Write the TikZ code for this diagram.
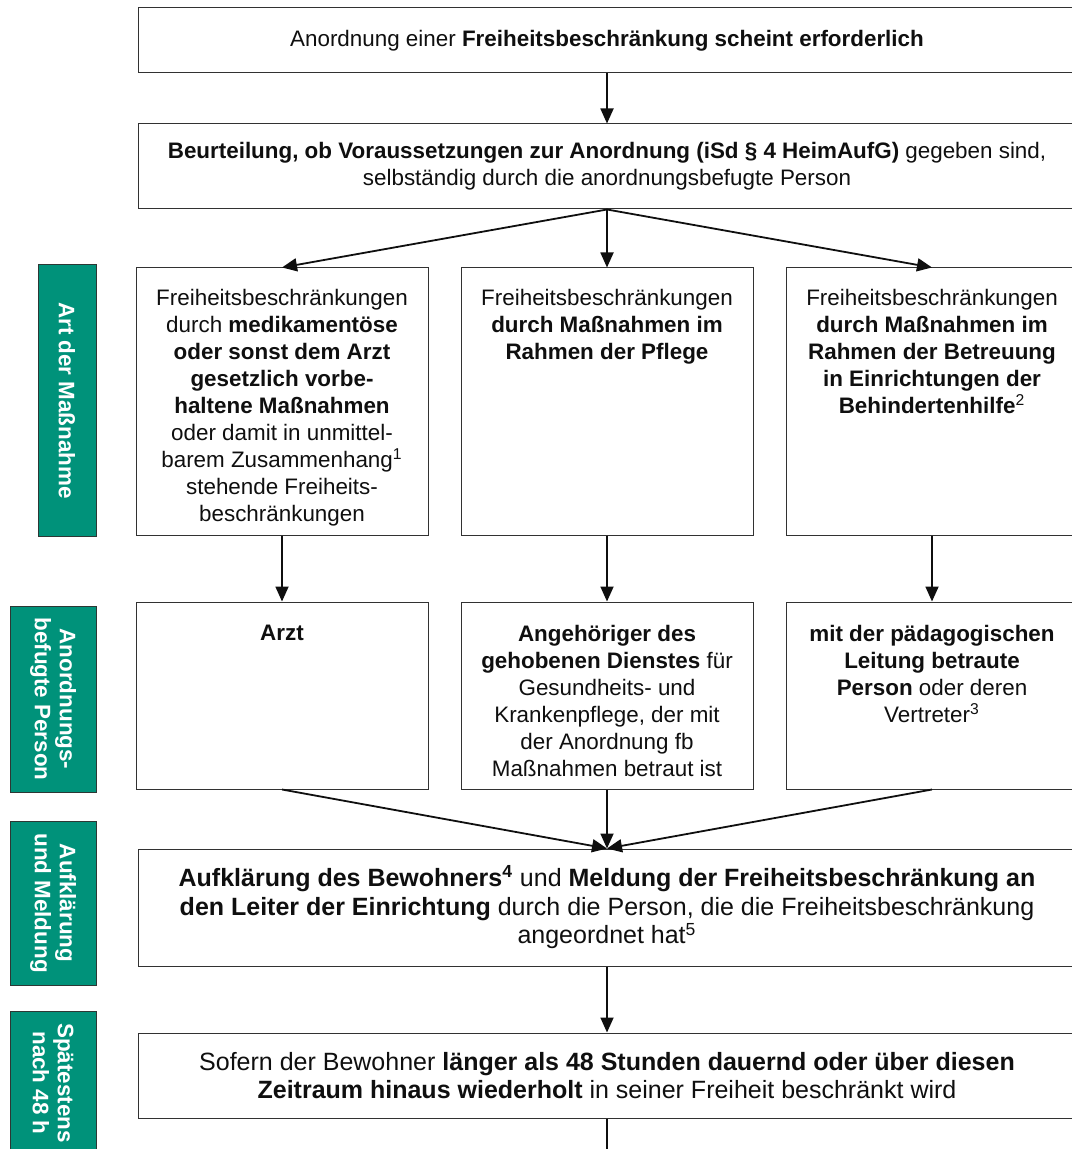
\documentclass[tikz,border=0pt]{standalone}
\usepackage{fontspec}
\setmainfont{Liberation Sans}
\usetikzlibrary{arrows.meta,positioning}
\definecolor{ink}{RGB}{15,15,15}
\definecolor{frame}{RGB}{50,50,50}
\definecolor{band}{RGB}{0,146,122}
\definecolor{bandedge}{RGB}{45,55,52}
\tikzset{
  every picture/.style={color=ink, line width=0.5pt},
  box/.style={draw=frame, fill=white, inner sep=0pt},
  wide/.style={box, minimum width=469pt, align=center, font=\fontsize{11.2}{13.5}\selectfont},
  widebig/.style={wide, font=\fontsize{12.5}{14.3}\selectfont},
  col/.style={box, minimum width=146pt},
  txt/.style={inner sep=0pt, align=center, font=\fontsize{11.2}{13.5}\selectfont},
  side/.style={draw=bandedge, fill=band, text=white, rotate=-90, inner sep=0pt, align=center, font=\bfseries\fontsize{11.2}{12.5}\selectfont},
  flow/.style={-{Triangle[length=7.5pt,width=6.5pt]}, line width=0.9pt},
}
\begin{document}
\begin{tikzpicture}[x=0.5pt, y=-0.5pt, node distance=16pt]
  \useasboundingbox (0,0) rectangle (1071,1149);
  % main column
  \node[wide, minimum height=32.5pt] (need) at (607,40.5) {Anordnung einer \textbf{Freiheitsbeschränkung scheint erforderlich}};
  \node[wide, minimum height=42.5pt, below=25pt of need] (judge) {\textbf{Beurteilung, ob Voraussetzungen zur Anordnung (iSd § 4 HeimAufG)} gegeben sind,\\selbständig durch die anordnungsbefugte Person};
  \node[col, minimum height=133.5pt, below=29pt of judge] (care) {};
  \node[col, minimum height=133.5pt, left=of care] (drug) {};
  \node[col, minimum height=133.5pt, right=of care] (assist) {};
  \node[col, minimum height=93.5pt, below=33pt of care] (nurse) {};
  \node[col, minimum height=93.5pt, left=of nurse] (doctor) {};
  \node[col, minimum height=93.5pt, right=of nurse] (lead) {};
  \node[widebig, minimum height=58.5pt, below=29.5pt of nurse] (inform) {\textbf{Aufklärung des Bewohners\textsuperscript{4}} und \textbf{Meldung der Freiheitsbeschränkung an}\\\textbf{den Leiter der Einrichtung} durch die Person, die die Freiheitsbeschränkung\\angeordnet hat\textsuperscript{5}};
  \node[widebig, minimum height=42.5pt, below=33pt of inform] (limit) {Sofern der Bewohner \textbf{länger als 48 Stunden dauernd oder über diesen}\\\textbf{Zeitraum hinaus wiederholt} in seiner Freiheit beschränkt wird};
  % texts of the columns
  \node[txt, anchor=north] (drugtxt) at ([yshift=-10.5pt]drug.north) {Freiheitsbeschränkungen\\durch \textbf{medikamentöse}\\\textbf{oder sonst dem Arzt}\\\textbf{gesetzlich vorbe-}\\\textbf{haltene Maßnahmen}\\oder damit in unmittel-\\barem Zusammenhang\textsuperscript{1}\\stehende Freiheits-\\beschränkungen};
  \node[txt, anchor=north] (caretxt) at ([yshift=-10.5pt]care.north) {Freiheitsbeschränkungen\\\textbf{durch Maßnahmen im}\\\textbf{Rahmen der Pflege}};
  \node[txt, anchor=north] (assisttxt) at ([yshift=-10.5pt]assist.north) {Freiheitsbeschränkungen\\\textbf{durch Maßnahmen im}\\\textbf{Rahmen der Betreuung}\\\textbf{in Einrichtungen der}\\\textbf{Behindertenhilfe}\textsuperscript{2}};
  \node[txt, anchor=north] (doctortxt) at ([yshift=-11.5pt]doctor.north) {\textbf{Arzt}};
  \node[txt, anchor=north] (nursetxt) at ([yshift=-11.5pt]nurse.north) {\textbf{Angehöriger des}\\\textbf{gehobenen Dienstes} für\\Gesundheits- und\\Krankenpflege, der mit\\der Anordnung fb\\Maßnahmen betraut ist};
  \node[txt, anchor=north] (leadtxt) at ([yshift=-11.5pt]lead.north) {\textbf{mit der pädagogischen}\\\textbf{Leitung betraute}\\\textbf{Person} oder deren\\Vertreter\textsuperscript{3}};
  % side bands
  \node[side, minimum width=135.5pt, minimum height=29pt] (kindbar) at (67,400.5) {Art der Maßnahme};
  \node[side, minimum width=93pt, minimum height=43pt] (rolebar) at (53,699) {Anordnungs-\\befugte Person};
  \node[side, minimum width=82pt, minimum height=43pt] (infobar) at (53,903) {Aufklärung\\und Meldung};
  \node[side, minimum width=72pt, minimum height=43pt] (timebar) at (53,1083) {Spätestens\\nach 48 h};
  % connectors
  \draw[flow] (need) -- (judge);
  \foreach \x in {drug,care,assist} \draw[flow] (judge.south) -- (\x.north);
  \foreach \a/\b in {drug/doctor,care/nurse,assist/lead} \draw[flow] (\a) -- (\b);
  \foreach \x in {doctor,nurse,lead} \draw[flow] (\x.south) -- (inform.north);
  \draw[flow] (inform) -- (limit);
  \coordinate[below=20pt of limit.south] (more);
  \draw[line width=0.9pt] (limit.south) -- (more);
\end{tikzpicture}
\end{document}
